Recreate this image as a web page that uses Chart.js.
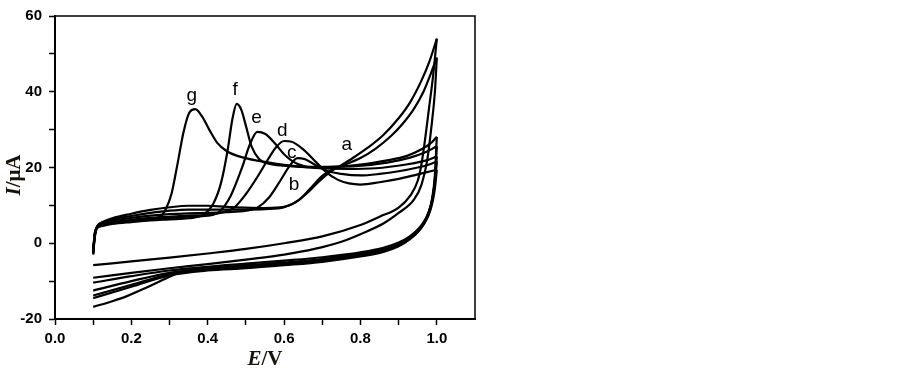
<!DOCTYPE html>
<html><head><meta charset="utf-8">
<script src="https://cdn.jsdelivr.net/npm/chart.js@4/dist/chart.umd.min.js"></script>
<style>html,body{margin:0;padding:0;background:#fff;}#wrap{width:902px;height:368px;position:relative;}</style>
</head><body><div id="wrap"><canvas id="cv"></canvas></div>
<script>
// ---------- data (E in V, I in µA) ----------
const curveNames = ['a','b','c','d','e','f','g'];

const aFwdE = [0.100,0.104,0.110,0.125,0.150,0.200,0.250,0.300,0.350,0.400,0.450,0.500,0.550,0.600,0.630,0.660,0.690,0.720,0.750,0.780,0.820,0.860,0.900,0.930,0.960,0.980,1.000];
const aFwdI = [-3.0,1.5,4.2,5.6,6.6,7.8,8.8,9.5,9.9,9.9,9.6,9.4,9.3,9.6,10.8,13.2,16.2,18.8,20.6,22.5,25.3,28.6,33.0,37.2,43.0,47.8,54.0];
const aRevE = [1.000,0.990,0.980,0.970,0.960,0.950,0.930,0.900,0.850,0.800,0.700,0.600,0.500,0.400,0.300,0.200,0.100];
const aRevI = [54.0,44.0,36.0,28.0,21.0,16.5,12.5,9.4,7.0,4.8,1.8,0.0,-1.5,-2.7,-3.8,-4.8,-5.8];

const bFwdE = [0.100,0.104,0.110,0.125,0.150,0.200,0.250,0.300,0.350,0.400,0.450,0.500,0.550,0.600,0.640,0.670,0.700,0.730,0.760,0.800,0.840,0.880,0.910,0.940,0.965,0.985,1.000];
const bFwdI = [-2.8,1.8,4.4,5.5,6.3,7.2,8.0,8.6,8.9,8.9,8.9,8.9,9.0,9.5,11.5,14.6,17.8,19.6,20.8,22.5,25.0,28.3,31.5,35.5,40.0,45.0,49.0];
const bRevE = [1.000,0.995,0.985,0.975,0.960,0.940,0.900,0.860,0.800,0.750,0.680,0.600,0.500,0.400,0.300,0.200,0.100];
const bRevI = [49.0,40.0,30.0,22.0,15.5,11.5,8.0,5.2,2.4,0.4,-1.5,-3.0,-4.3,-5.5,-6.6,-7.8,-9.1];

const cFwdE = [0.100,0.104,0.110,0.125,0.150,0.200,0.250,0.300,0.350,0.400,0.450,0.500,0.530,0.560,0.590,0.615,0.635,0.655,0.680,0.710,0.750,0.800,0.850,0.900,0.950,0.980,1.000];
const cFwdI = [-2.6,2.0,4.3,5.2,5.9,6.7,7.3,7.7,7.9,8.0,8.2,8.6,9.4,12.0,16.5,20.5,22.5,22.2,20.8,19.2,18.3,17.9,18.3,19.0,20.0,20.8,21.6];
const cRevE = [1.000,0.995,0.988,0.978,0.965,0.950,0.930,0.900,0.860,0.800,0.700,0.600,0.500,0.400,0.300,0.200,0.100];
const cRevI = [21.6,16.0,11.5,8.0,5.5,3.6,1.9,0.2,-1.2,-2.4,-3.7,-4.6,-5.4,-6.2,-7.2,-8.7,-10.4];

const dFwdE = [0.100,0.104,0.110,0.125,0.150,0.200,0.250,0.300,0.350,0.400,0.440,0.470,0.500,0.530,0.560,0.580,0.600,0.620,0.650,0.680,0.710,0.740,0.770,0.800,0.850,0.900,0.950,1.000];
const dFwdI = [-2.5,2.0,4.1,4.9,5.5,6.2,6.7,7.0,7.3,7.5,8.2,9.5,13.0,17.5,22.5,25.5,27.0,26.8,24.8,21.8,18.8,16.8,15.8,15.5,16.1,17.0,18.2,19.4];
const dRevE = [1.000,0.995,0.988,0.978,0.965,0.950,0.930,0.900,0.860,0.800,0.700,0.600,0.500,0.400,0.300,0.200,0.100];
const dRevI = [19.4,14.5,10.5,7.3,4.9,3.0,1.3,-0.4,-1.8,-3.0,-4.3,-5.2,-6.0,-6.6,-7.8,-10.0,-12.5];

const eFwdE = [0.100,0.104,0.110,0.125,0.150,0.200,0.250,0.300,0.350,0.400,0.430,0.460,0.490,0.510,0.530,0.550,0.575,0.600,0.630,0.670,0.720,0.800,0.870,0.920,0.960,0.985,1.000];
const eFwdI = [-2.4,2.2,4.0,4.7,5.3,5.9,6.3,6.7,7.0,7.3,8.3,12.5,20.0,26.0,29.4,28.9,26.5,23.5,21.2,20.2,20.2,20.8,21.9,23.0,24.8,26.5,28.1];
const eRevE = [1.000,0.995,0.988,0.978,0.965,0.950,0.930,0.900,0.860,0.800,0.700,0.600,0.500,0.400,0.300,0.200,0.100];
const eRevI = [28.1,18.0,12.0,8.0,5.2,3.2,1.4,-0.5,-2.0,-3.2,-4.6,-5.5,-6.3,-6.9,-8.2,-11.0,-13.8];

const fFwdE = [0.100,0.104,0.110,0.125,0.150,0.200,0.250,0.300,0.350,0.390,0.415,0.435,0.452,0.465,0.476,0.488,0.500,0.515,0.535,0.560,0.600,0.680,0.780,0.870,0.930,0.970,1.000];
const fFwdI = [-2.2,2.4,4.0,4.6,5.1,5.6,6.0,6.3,6.6,7.6,10.5,16.0,24.5,33.0,36.8,35.2,31.0,25.5,22.2,21.0,20.5,20.1,20.3,21.3,22.6,24.0,25.6];
const fRevE = [1.000,0.995,0.988,0.978,0.965,0.950,0.930,0.900,0.860,0.800,0.700,0.600,0.500,0.400,0.300,0.200,0.100];
const fRevI = [25.6,17.0,11.5,7.6,4.9,2.9,1.1,-0.8,-2.3,-3.5,-4.9,-5.8,-6.6,-7.2,-8.5,-11.5,-14.5];

const gFwdE = [0.100,0.104,0.110,0.125,0.150,0.200,0.240,0.275,0.290,0.305,0.320,0.337,0.352,0.367,0.385,0.405,0.425,0.450,0.480,0.530,0.600,0.680,0.760,0.840,0.920,0.970,1.000];
const gFwdI = [-2.0,2.6,4.2,5.0,5.4,6.0,6.4,7.0,9.0,13.0,20.5,29.5,34.5,35.4,33.5,29.8,26.5,24.3,23.0,21.8,20.7,19.9,19.6,19.8,20.8,21.8,22.9];
const gRevE = [1.000,0.995,0.988,0.978,0.965,0.950,0.930,0.900,0.860,0.800,0.700,0.600,0.500,0.470,0.450,0.400,0.360,0.320,0.280,0.240,0.190,0.150,0.100];
const gRevI = [22.9,16.5,11.2,7.8,5.2,3.2,1.5,-0.3,-1.6,-2.8,-4.2,-5.1,-5.8,-6.0,-6.4,-6.6,-6.8,-8.0,-9.8,-11.7,-13.9,-15.3,-16.8];

// curve label anchors (data coordinates, text baseline)
const labelE = [0.764,0.626,0.620,0.595,0.528,0.472,0.358];
const labelI = [24.6,14.1,22.4,28.4,31.7,39.1,37.5];

const xTickValues = [0.0,0.2,0.4,0.6,0.8,1.0];
const xTickLabels = ['0.0','0.2','0.4','0.6','0.8','1.0'];
const yTickValues = [-20,0,20,40,60];
const yTickLabels = ['-20','0','20','40','60'];
const xTitleParts = ['E','/V'];
const yTitleParts = ['I','/\u03bcA'];

// ---------- build datasets ----------
const sets = {
  a:[aFwdE,aFwdI,aRevE,aRevI], b:[bFwdE,bFwdI,bRevE,bRevI], c:[cFwdE,cFwdI,cRevE,cRevI],
  d:[dFwdE,dFwdI,dRevE,dRevI], e:[eFwdE,eFwdI,eRevE,eRevI], f:[fFwdE,fFwdI,fRevE,fRevI],
  g:[gFwdE,gFwdI,gRevE,gRevI]
};
const zip = (xs, ys) => xs.map((x, i) => ({x, y: ys[i]}));
const datasets = [];
curveNames.forEach(n => {
  const [fe, fi, re, ri] = sets[n];
  [zip(fe, fi), zip(re, ri)].forEach(pts => datasets.push({
    label: n, data: pts, showLine: true, borderColor: '#000', borderWidth: 2.2,
    pointRadius: 0, fill: false, cubicInterpolationMode: 'monotone'
  }));
});

const lookup = (vals, labs, v) => {
  for (let i = 0; i < vals.length; i++) if (Math.abs(vals[i] - v) < 1e-6) return labs[i];
  return '';
};

const decor = {
  id: 'decor',
  afterDraw(chart) {
    const {ctx, chartArea: ca, scales} = chart;
    const xs = scales.x, ys = scales.y;
    ctx.save();
    ctx.strokeStyle = '#000'; ctx.lineWidth = 1.5;
    ctx.beginPath();
    ctx.moveTo(ca.left, ca.top); ctx.lineTo(ca.right, ca.top); ctx.lineTo(ca.right, ca.bottom);
    ctx.stroke();
    ctx.fillStyle = '#000';
    ctx.font = '19px "Liberation Sans", Arial, sans-serif';
    ctx.textAlign = 'center'; ctx.textBaseline = 'alphabetic';
    curveNames.forEach((n, i) => {
      ctx.fillText(n, xs.getPixelForValue(labelE[i]), ys.getPixelForValue(labelI[i]));
    });
    const f1 = 'italic bold 21px "Liberation Serif", "Times New Roman", serif';
    const f2 = 'bold 21px "Liberation Serif", "Times New Roman", serif';
    const drawParts = (parts, cx, cy) => {
      ctx.font = f1; const w1 = ctx.measureText(parts[0]).width;
      ctx.font = f2; const w2 = ctx.measureText(parts[1]).width;
      const x0 = cx - (w1 + w2) / 2;
      ctx.textAlign = 'left'; ctx.textBaseline = 'alphabetic';
      ctx.font = f1; ctx.fillText(parts[0], x0, cy);
      ctx.font = f2; ctx.fillText(parts[1], x0 + w1, cy);
    };
    ctx.fillStyle = '#1a1208';
    drawParts(xTitleParts, (ca.left + ca.right) / 2, 365);
    ctx.save();
    ctx.translate(20, 175); ctx.rotate(-Math.PI / 2);
    drawParts(yTitleParts, 0, 0);
    ctx.restore();
    ctx.restore();
  }
};

Chart.defaults.font.family = '"Liberation Sans", Arial, sans-serif';
new Chart(document.getElementById('cv'), {
  type: 'scatter',
  data: {datasets},
  options: {
    responsive: true, maintainAspectRatio: false, animation: false, devicePixelRatio: 1,
    layout: {padding: {top: 10, right: 427, left: 0, bottom: 0}},
    plugins: {legend: {display: false}, tooltip: {enabled: false}},
    scales: {
      x: {
        type: 'linear', min: 0, max: 1.1,
        afterFit: s => { s.height = 49; },
        border: {display: true, color: '#000', width: 2},
        grid: {drawOnChartArea: false, drawTicks: true, tickLength: 6, tickWidth: 1.5,
               tickColor: c => (c.tick && c.tick.value > 1.05) ? 'rgba(0,0,0,0)' : '#000'},
        ticks: {stepSize: 0.1, autoSkip: false, maxRotation: 0, padding: 5, color: '#000',
                font: {size: 15, weight: 'bold'},
                callback: v => lookup(xTickValues, xTickLabels, v)}
      },
      y: {
        type: 'linear', min: -20, max: 60,
        afterFit: s => { s.width = 55; },
        border: {display: true, color: '#000', width: 2},
        grid: {drawOnChartArea: false, drawTicks: true, tickLength: 6, tickWidth: 1.5, tickColor: '#000'},
        ticks: {stepSize: 10, autoSkip: false, padding: 7, color: '#000',
                font: {size: 15, weight: 'bold'},
                callback: v => lookup(yTickValues, yTickLabels, v)}
      }
    }
  },
  plugins: [decor]
});
</script></body></html>
